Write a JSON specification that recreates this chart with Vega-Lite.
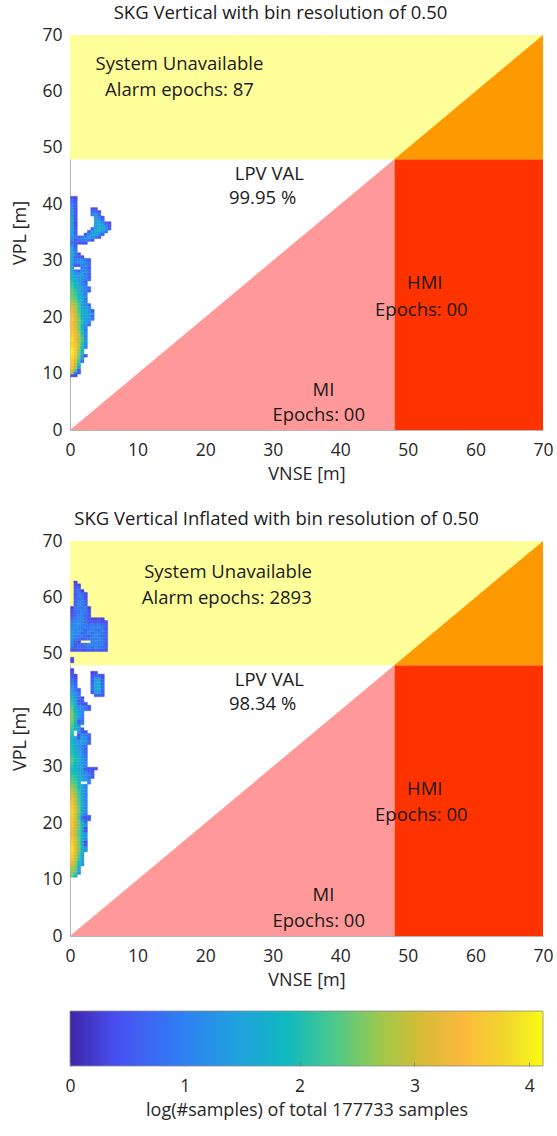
{
  "$schema": "https://vega.github.io/schema/vega-lite/v6.json",
  "padding": {"left": 11, "top": 3, "right": 10, "bottom": 4},
  "spacing": 20,
  "config": {
    "font": "Open Sans",
    "view": {"stroke": null},
    "axis": {"labelFont": "Open Sans", "labelFontSize": 17.5, "labelColor": "#262626", "titleFont": "Open Sans", "titleFontSize": 18, "titleFontWeight": "normal", "titleColor": "#262626", "ticks": false, "grid": false, "domainColor": "#b4b4b4", "labelFlush": false},
    "axisX": {"labelPadding": 11, "titlePadding": 7},
    "axisY": {"labelPadding": 8, "titlePadding": 12},
    "title": {"font": "Open Sans", "fontSize": 18.5, "fontWeight": "normal", "color": "#1a1a1a", "frame": "group", "anchor": "middle", "offset": 4},
    "text": {"font": "Open Sans", "fontSize": 18.5, "color": "#1a1a1a"}
  },
  "datasets": {
    "top": [
{"x":0,"y":9.5,"v":0.4},{"x":0.5,"y":9.5,"v":0.3},
{"x":0,"y":10,"v":2.8},{"x":0.5,"y":10,"v":1.0},{"x":1,"y":10,"v":0.4},
{"x":0,"y":10.5,"v":3.2},{"x":0.5,"y":10.5,"v":2.4},{"x":1,"y":10.5,"v":0.5},
{"x":0,"y":11,"v":3.4},{"x":0.5,"y":11,"v":2.8},{"x":1,"y":11,"v":1.5},
{"x":0,"y":11.5,"v":3.6},{"x":0.5,"y":11.5,"v":3.0},{"x":1,"y":11.5,"v":2.0},
{"x":0,"y":12,"v":3.7},{"x":0.5,"y":12,"v":3.2},{"x":1,"y":12,"v":2.2},{"x":1.5,"y":12,"v":0.8},
{"x":0,"y":12.5,"v":3.8},{"x":0.5,"y":12.5,"v":3.3},{"x":1,"y":12.5,"v":2.4},{"x":1.5,"y":12.5,"v":1.2},
{"x":0,"y":13,"v":3.9},{"x":0.5,"y":13,"v":3.5},{"x":1,"y":13,"v":2.5},{"x":1.5,"y":13,"v":1.5},{"x":2,"y":13,"v":0.4},
{"x":0,"y":13.5,"v":4.0},{"x":0.5,"y":13.5,"v":3.6},{"x":1,"y":13.5,"v":2.6},{"x":1.5,"y":13.5,"v":1.8},
{"x":0,"y":14,"v":4.0},{"x":0.5,"y":14,"v":3.6},{"x":1,"y":14,"v":2.7},{"x":1.5,"y":14,"v":1.9},
{"x":0,"y":14.5,"v":3.9},{"x":0.5,"y":14.5,"v":3.7},{"x":1,"y":14.5,"v":2.8},{"x":1.5,"y":14.5,"v":2.0},{"x":2,"y":14.5,"v":1.0},
{"x":0,"y":15,"v":3.8},{"x":0.5,"y":15,"v":3.6},{"x":1,"y":15,"v":2.9},{"x":1.5,"y":15,"v":2.1},{"x":2,"y":15,"v":1.2},
{"x":0,"y":15.5,"v":3.8},{"x":0.5,"y":15.5,"v":3.5},{"x":1,"y":15.5,"v":2.8},{"x":1.5,"y":15.5,"v":2.2},{"x":2,"y":15.5,"v":1.4},
{"x":0,"y":16,"v":3.9},{"x":0.5,"y":16,"v":3.4},{"x":1,"y":16,"v":2.8},{"x":1.5,"y":16,"v":2.3},{"x":2,"y":16,"v":1.3},
{"x":0,"y":16.5,"v":3.8},{"x":0.5,"y":16.5,"v":3.4},{"x":1,"y":16.5,"v":2.9},{"x":1.5,"y":16.5,"v":2.2},{"x":2,"y":16.5,"v":1.0},
{"x":0,"y":17,"v":3.7},{"x":0.5,"y":17,"v":3.3},{"x":1,"y":17,"v":2.7},{"x":1.5,"y":17,"v":2.0},{"x":2,"y":17,"v":1.2},
{"x":0,"y":17.5,"v":3.6},{"x":0.5,"y":17.5,"v":3.3},{"x":1,"y":17.5,"v":2.6},{"x":1.5,"y":17.5,"v":2.0},{"x":2,"y":17.5,"v":0.9},
{"x":0,"y":18,"v":3.6},{"x":0.5,"y":18,"v":3.2},{"x":1,"y":18,"v":2.6},{"x":1.5,"y":18,"v":1.9},{"x":2,"y":18,"v":1.1},
{"x":0,"y":18.5,"v":3.5},{"x":0.5,"y":18.5,"v":3.2},{"x":1,"y":18.5,"v":2.5},{"x":1.5,"y":18.5,"v":1.9},{"x":2,"y":18.5,"v":1.3},{"x":2.5,"y":18.5,"v":0.8},
{"x":0,"y":19,"v":3.5},{"x":0.5,"y":19,"v":3.1},{"x":1,"y":19,"v":2.5},{"x":1.5,"y":19,"v":2.0},{"x":2,"y":19,"v":1.4},{"x":2.5,"y":19,"v":1.0},
{"x":0,"y":19.5,"v":3.6},{"x":0.5,"y":19.5,"v":3.2},{"x":1,"y":19.5,"v":2.6},{"x":1.5,"y":19.5,"v":2.0},{"x":2,"y":19.5,"v":1.5},{"x":2.5,"y":19.5,"v":1.2},{"x":3,"y":19.5,"v":0.9},
{"x":0,"y":20,"v":3.5},{"x":0.5,"y":20,"v":3.0},{"x":1,"y":20,"v":2.4},{"x":1.5,"y":20,"v":1.8},{"x":2,"y":20,"v":1.5},{"x":2.5,"y":20,"v":1.3},{"x":3,"y":20,"v":0.8},
{"x":0,"y":20.5,"v":3.4},{"x":0.5,"y":20.5,"v":3.0},{"x":1,"y":20.5,"v":2.4},{"x":1.5,"y":20.5,"v":1.9},{"x":2,"y":20.5,"v":1.6},{"x":2.5,"y":20.5,"v":1.4},{"x":3,"y":20.5,"v":1.2},
{"x":0,"y":21,"v":3.3},{"x":0.5,"y":21,"v":2.9},{"x":1,"y":21,"v":2.3},{"x":1.5,"y":21,"v":1.8},{"x":2,"y":21,"v":1.5},{"x":2.5,"y":21,"v":1.3},{"x":3,"y":21,"v":0.6},
{"x":0,"y":21.5,"v":3.2},{"x":0.5,"y":21.5,"v":2.8},{"x":1,"y":21.5,"v":2.2},{"x":1.5,"y":21.5,"v":1.7},{"x":2,"y":21.5,"v":1.4},{"x":2.5,"y":21.5,"v":1.0},
{"x":0,"y":22,"v":3.0},{"x":0.5,"y":22,"v":2.7},{"x":1,"y":22,"v":2.2},{"x":1.5,"y":22,"v":1.6},{"x":2,"y":22,"v":1.2},{"x":2.5,"y":22,"v":0.7},
{"x":0,"y":22.5,"v":2.8},{"x":0.5,"y":22.5,"v":2.6},{"x":1,"y":22.5,"v":2.1},{"x":1.5,"y":22.5,"v":1.6},{"x":2,"y":22.5,"v":1.0},
{"x":0,"y":23,"v":2.6},{"x":0.5,"y":23,"v":2.4},{"x":1,"y":23,"v":2.0},{"x":1.5,"y":23,"v":1.5},{"x":2,"y":23,"v":0.8},
{"x":0,"y":23.5,"v":2.5},{"x":0.5,"y":23.5,"v":2.3},{"x":1,"y":23.5,"v":1.9},{"x":1.5,"y":23.5,"v":1.5},{"x":2,"y":23.5,"v":1.2},
{"x":0,"y":24,"v":2.5},{"x":0.5,"y":24,"v":2.2},{"x":1,"y":24,"v":1.8},{"x":1.5,"y":24,"v":1.4},{"x":2,"y":24,"v":1.0},
{"x":0,"y":24.5,"v":2.4},{"x":0.5,"y":24.5,"v":2.1},{"x":1,"y":24.5,"v":1.8},{"x":1.5,"y":24.5,"v":1.3},{"x":2,"y":24.5,"v":0.9},{"x":2.5,"y":24.5,"v":0.5},
{"x":0,"y":25,"v":2.3},{"x":0.5,"y":25,"v":2.0},{"x":1,"y":25,"v":1.7},{"x":1.5,"y":25,"v":1.4},{"x":2,"y":25,"v":1.1},{"x":2.5,"y":25,"v":0.8},
{"x":0,"y":25.5,"v":2.2},{"x":0.5,"y":25.5,"v":1.9},{"x":1,"y":25.5,"v":1.5},{"x":1.5,"y":25.5,"v":1.2},{"x":2,"y":25.5,"v":0.9},
{"x":0,"y":26,"v":2.1},{"x":0.5,"y":26,"v":1.8},{"x":1,"y":26,"v":1.4},{"x":1.5,"y":26,"v":1.0},{"x":2,"y":26,"v":0.6},
{"x":0,"y":26.5,"v":2.0},{"x":0.5,"y":26.5,"v":1.7},{"x":1,"y":26.5,"v":1.3},{"x":1.5,"y":26.5,"v":1.2},{"x":2,"y":26.5,"v":1.0},{"x":2.5,"y":26.5,"v":0.7},
{"x":0,"y":27,"v":1.9},{"x":0.5,"y":27,"v":1.5},{"x":1,"y":27,"v":1.2},{"x":1.5,"y":27,"v":1.3},{"x":2,"y":27,"v":1.1},{"x":2.5,"y":27,"v":0.6},
{"x":0,"y":27.5,"v":1.8},{"x":0.5,"y":27.5,"v":1.3},{"x":1,"y":27.5,"v":1.2},{"x":1.5,"y":27.5,"v":1.4},{"x":2,"y":27.5,"v":1.0},{"x":2.5,"y":27.5,"v":0.6},
{"x":0,"y":28,"v":1.7},{"x":0.5,"y":28,"v":1.0},{"x":1,"y":28,"v":0.6},{"x":1.5,"y":28,"v":1.3},{"x":2,"y":28,"v":1.1},{"x":2.5,"y":28,"v":0.8},
{"x":0,"y":28.5,"v":1.5},{"x":1.5,"y":28.5,"v":0.9},{"x":2,"y":28.5,"v":1.0},{"x":2.5,"y":28.5,"v":0.5},
{"x":0,"y":29,"v":1.4},{"x":0.5,"y":29,"v":0.5},{"x":1,"y":29,"v":0.4},{"x":1.5,"y":29,"v":1.0},{"x":2,"y":29,"v":1.2},{"x":2.5,"y":29,"v":0.7},
{"x":0,"y":29.5,"v":1.5},{"x":0.5,"y":29.5,"v":1.0},{"x":1,"y":29.5,"v":1.2},{"x":1.5,"y":29.5,"v":1.3},{"x":2,"y":29.5,"v":1.1},{"x":2.5,"y":29.5,"v":0.6},
{"x":0,"y":30,"v":1.4},{"x":0.5,"y":30,"v":0.9},{"x":1,"y":30,"v":1.0},{"x":1.5,"y":30,"v":1.2},{"x":2,"y":30,"v":0.8},{"x":2.5,"y":30,"v":0.5},
{"x":0,"y":30.5,"v":1.5},{"x":0.5,"y":30.5,"v":0.8},{"x":1,"y":30.5,"v":0.6},{"x":1.5,"y":30.5,"v":0.5},
{"x":0,"y":31,"v":1.6},{"x":0.5,"y":31,"v":1.0},{"x":1,"y":31,"v":0.4},
{"x":0,"y":31.5,"v":1.6},{"x":0.5,"y":31.5,"v":0.9},
{"x":0,"y":32,"v":1.5},{"x":0.5,"y":32,"v":0.8},
{"x":0,"y":32.5,"v":1.2},{"x":0.5,"y":32.5,"v":0.6},
{"x":0,"y":33,"v":0.7},{"x":0.5,"y":33,"v":0.5},{"x":1,"y":33,"v":0.4},{"x":1.5,"y":33,"v":0.5},{"x":2,"y":33,"v":0.4},
{"x":0,"y":33.5,"v":1.0},{"x":0.5,"y":33.5,"v":0.6},{"x":1,"y":33.5,"v":0.7},{"x":1.5,"y":33.5,"v":0.9},{"x":2,"y":33.5,"v":1.0},{"x":2.5,"y":33.5,"v":0.8},{"x":3,"y":33.5,"v":0.5},
{"x":0,"y":34,"v":1.3},{"x":0.5,"y":34,"v":0.8},{"x":1,"y":34,"v":0.7},{"x":1.5,"y":34,"v":0.9},{"x":2,"y":34,"v":1.2},{"x":2.5,"y":34,"v":1.4},{"x":3,"y":34,"v":1.2},{"x":3.5,"y":34,"v":0.9},{"x":4,"y":34,"v":0.5},
{"x":0,"y":34.5,"v":1.4},{"x":0.5,"y":34.5,"v":0.7},{"x":2,"y":34.5,"v":0.6},{"x":2.5,"y":34.5,"v":1.1},{"x":3,"y":34.5,"v":1.5},{"x":3.5,"y":34.5,"v":1.4},{"x":4,"y":34.5,"v":1.0},{"x":4.5,"y":34.5,"v":0.6},
{"x":0,"y":35,"v":1.5},{"x":0.5,"y":35,"v":0.6},{"x":2.5,"y":35,"v":0.6},{"x":3,"y":35,"v":1.3},{"x":3.5,"y":35,"v":1.7},{"x":4,"y":35,"v":1.6},{"x":4.5,"y":35,"v":1.3},{"x":5,"y":35,"v":0.8},
{"x":0,"y":35.5,"v":1.5},{"x":0.5,"y":35.5,"v":0.6},{"x":3,"y":35.5,"v":0.8},{"x":3.5,"y":35.5,"v":1.5},{"x":4,"y":35.5,"v":1.8},{"x":4.5,"y":35.5,"v":1.7},{"x":5,"y":35.5,"v":1.2},{"x":5.5,"y":35.5,"v":0.6},
{"x":0,"y":36,"v":1.5},{"x":0.5,"y":36,"v":0.5},{"x":3.5,"y":36,"v":1.2},{"x":4,"y":36,"v":1.7},{"x":4.5,"y":36,"v":1.6},{"x":5,"y":36,"v":1.0},{"x":5.5,"y":36,"v":0.5},
{"x":0,"y":36.5,"v":1.4},{"x":0.5,"y":36.5,"v":0.4},{"x":3.5,"y":36.5,"v":1.4},{"x":4,"y":36.5,"v":1.6},{"x":4.5,"y":36.5,"v":1.2},{"x":5,"y":36.5,"v":0.6},{"x":5.5,"y":36.5,"v":0.4},
{"x":0,"y":37,"v":1.4},{"x":0.5,"y":37,"v":0.5},{"x":3.5,"y":37,"v":1.5},{"x":4,"y":37,"v":1.3},{"x":4.5,"y":37,"v":0.8},
{"x":0,"y":37.5,"v":1.3},{"x":0.5,"y":37.5,"v":0.5},{"x":3.5,"y":37.5,"v":1.4},{"x":4,"y":37.5,"v":1.0},{"x":4.5,"y":37.5,"v":0.5},
{"x":0,"y":38,"v":1.3},{"x":0.5,"y":38,"v":0.6},{"x":3,"y":38,"v":1.0},{"x":3.5,"y":38,"v":1.3},{"x":4,"y":38,"v":0.8},
{"x":0,"y":38.5,"v":1.2},{"x":0.5,"y":38.5,"v":0.5},{"x":3,"y":38.5,"v":0.8},{"x":3.5,"y":38.5,"v":0.7},{"x":4,"y":38.5,"v":0.4},
{"x":0,"y":39,"v":1.2},{"x":0.5,"y":39,"v":0.4},{"x":3,"y":39,"v":0.4},{"x":3.5,"y":39,"v":0.5},
{"x":0,"y":39.5,"v":1.1},{"x":0.5,"y":39.5,"v":0.5},
{"x":0,"y":40,"v":1.0},{"x":0.5,"y":40,"v":0.6},
{"x":0,"y":40.5,"v":0.8},{"x":0.5,"y":40.5,"v":0.5},
{"x":0,"y":41,"v":0.5},{"x":0.5,"y":41,"v":0.3}
    ],
    "bot": [
{"x":0,"y":10.5,"v":2.4},{"x":0.5,"y":10.5,"v":1.8},
{"x":0,"y":11,"v":2.6},{"x":0.5,"y":11,"v":2.3},{"x":1,"y":11,"v":1.2},
{"x":0,"y":11.5,"v":2.7},{"x":0.5,"y":11.5,"v":2.5},{"x":1,"y":11.5,"v":1.5},
{"x":0,"y":12,"v":2.9},{"x":0.5,"y":12,"v":2.6},{"x":1,"y":12,"v":1.6},
{"x":0,"y":12.5,"v":3.1},{"x":0.5,"y":12.5,"v":2.7},{"x":1,"y":12.5,"v":1.8},{"x":1.5,"y":12.5,"v":1.2},
{"x":0,"y":13,"v":3.3},{"x":0.5,"y":13,"v":2.8},{"x":1,"y":13,"v":2.0},{"x":1.5,"y":13,"v":1.4},
{"x":0,"y":13.5,"v":3.5},{"x":0.5,"y":13.5,"v":3.0},{"x":1,"y":13.5,"v":2.2},{"x":1.5,"y":13.5,"v":1.5},
{"x":0,"y":14,"v":3.7},{"x":0.5,"y":14,"v":3.1},{"x":1,"y":14,"v":2.3},{"x":1.5,"y":14,"v":1.6},
{"x":0,"y":14.5,"v":3.8},{"x":0.5,"y":14.5,"v":3.2},{"x":1,"y":14.5,"v":2.4},{"x":1.5,"y":14.5,"v":1.7},
{"x":0,"y":15,"v":3.9},{"x":0.5,"y":15,"v":3.3},{"x":1,"y":15,"v":2.5},{"x":1.5,"y":15,"v":1.8},{"x":2,"y":15,"v":1.2},
{"x":0,"y":15.5,"v":3.9},{"x":0.5,"y":15.5,"v":3.3},{"x":1,"y":15.5,"v":2.6},{"x":1.5,"y":15.5,"v":1.9},{"x":2,"y":15.5,"v":1.4},
{"x":0,"y":16,"v":3.8},{"x":0.5,"y":16,"v":3.2},{"x":1,"y":16,"v":2.5},{"x":1.5,"y":16,"v":1.8},{"x":2,"y":16,"v":0.5},
{"x":0,"y":16.5,"v":3.7},{"x":0.5,"y":16.5,"v":3.2},{"x":1,"y":16.5,"v":2.4},{"x":1.5,"y":16.5,"v":1.7},{"x":2,"y":16.5,"v":0.4},
{"x":0,"y":17,"v":3.6},{"x":0.5,"y":17,"v":3.1},{"x":1,"y":17,"v":2.5},{"x":1.5,"y":17,"v":1.8},{"x":2,"y":17,"v":1.2},
{"x":0,"y":17.5,"v":3.5},{"x":0.5,"y":17.5,"v":3.0},{"x":1,"y":17.5,"v":2.4},{"x":1.5,"y":17.5,"v":1.9},{"x":2,"y":17.5,"v":1.3},
{"x":0,"y":18,"v":3.4},{"x":0.5,"y":18,"v":2.9},{"x":1,"y":18,"v":2.3},{"x":1.5,"y":18,"v":1.8},{"x":2,"y":18,"v":1.2},
{"x":0,"y":18.5,"v":3.4},{"x":0.5,"y":18.5,"v":2.9},{"x":1,"y":18.5,"v":2.4},{"x":1.5,"y":18.5,"v":1.7},{"x":2,"y":18.5,"v":0.5},
{"x":0,"y":19,"v":3.5},{"x":0.5,"y":19,"v":3.0},{"x":1,"y":19,"v":2.5},{"x":1.5,"y":19,"v":1.8},{"x":2,"y":19,"v":0.4},
{"x":0,"y":19.5,"v":3.6},{"x":0.5,"y":19.5,"v":3.0},{"x":1,"y":19.5,"v":2.4},{"x":1.5,"y":19.5,"v":1.9},{"x":2,"y":19.5,"v":1.3},
{"x":0,"y":20,"v":3.6},{"x":0.5,"y":20,"v":3.1},{"x":1,"y":20,"v":2.5},{"x":1.5,"y":20,"v":1.8},{"x":2,"y":20,"v":0.8},
{"x":0,"y":20.5,"v":3.7},{"x":0.5,"y":20.5,"v":3.1},{"x":1,"y":20.5,"v":2.4},{"x":1.5,"y":20.5,"v":1.0},{"x":2,"y":20.5,"v":0.6},{"x":2.5,"y":20.5,"v":0.5},
{"x":0,"y":21,"v":3.7},{"x":0.5,"y":21,"v":3.2},{"x":1,"y":21,"v":2.3},{"x":1.5,"y":21,"v":0.9},{"x":2,"y":21,"v":0.5},{"x":2.5,"y":21,"v":0.6},
{"x":0,"y":21.5,"v":3.8},{"x":0.5,"y":21.5,"v":3.2},{"x":1,"y":21.5,"v":2.4},{"x":1.5,"y":21.5,"v":1.6},{"x":2,"y":21.5,"v":1.0},
{"x":0,"y":22,"v":3.8},{"x":0.5,"y":22,"v":3.3},{"x":1,"y":22,"v":2.5},{"x":1.5,"y":22,"v":1.7},{"x":2,"y":22,"v":1.2},
{"x":0,"y":22.5,"v":3.7},{"x":0.5,"y":22.5,"v":3.2},{"x":1,"y":22.5,"v":2.4},{"x":1.5,"y":22.5,"v":1.7},{"x":2,"y":22.5,"v":1.1},
{"x":0,"y":23,"v":3.6},{"x":0.5,"y":23,"v":3.1},{"x":1,"y":23,"v":2.4},{"x":1.5,"y":23,"v":1.8},{"x":2,"y":23,"v":1.2},
{"x":0,"y":23.5,"v":3.5},{"x":0.5,"y":23.5,"v":3.0},{"x":1,"y":23.5,"v":2.3},{"x":1.5,"y":23.5,"v":1.7},{"x":2,"y":23.5,"v":1.1},
{"x":0,"y":24,"v":3.4},{"x":0.5,"y":24,"v":2.9},{"x":1,"y":24,"v":2.3},{"x":1.5,"y":24,"v":1.6},{"x":2,"y":24,"v":1.2},
{"x":0,"y":24.5,"v":3.2},{"x":0.5,"y":24.5,"v":2.8},{"x":1,"y":24.5,"v":2.2},{"x":1.5,"y":24.5,"v":1.7},{"x":2,"y":24.5,"v":1.1},
{"x":0,"y":25,"v":3.1},{"x":0.5,"y":25,"v":2.7},{"x":1,"y":25,"v":2.2},{"x":1.5,"y":25,"v":1.6},{"x":2,"y":25,"v":1.0},
{"x":0,"y":25.5,"v":3.0},{"x":0.5,"y":25.5,"v":2.6},{"x":1,"y":25.5,"v":2.1},{"x":1.5,"y":25.5,"v":1.5},{"x":2,"y":25.5,"v":1.2},
{"x":0,"y":26,"v":2.8},{"x":0.5,"y":26,"v":2.5},{"x":1,"y":26,"v":2.0},{"x":1.5,"y":26,"v":1.6},{"x":2,"y":26,"v":1.1},
{"x":0,"y":26.5,"v":2.6},{"x":0.5,"y":26.5,"v":2.4},{"x":1,"y":26.5,"v":2.0},{"x":1.5,"y":26.5,"v":1.5},{"x":2,"y":26.5,"v":1.0},
{"x":0,"y":27,"v":2.4},{"x":0.5,"y":27,"v":2.3},{"x":1,"y":27,"v":1.9},{"x":2.5,"y":27,"v":0.9},
{"x":0,"y":27.5,"v":2.3},{"x":0.5,"y":27.5,"v":2.2},{"x":1,"y":27.5,"v":1.8},{"x":1.5,"y":27.5,"v":1.5},{"x":2,"y":27.5,"v":1.3},{"x":2.5,"y":27.5,"v":1.0},
{"x":0,"y":28,"v":2.2},{"x":0.5,"y":28,"v":2.1},{"x":1,"y":28,"v":1.8},{"x":1.5,"y":28,"v":1.6},{"x":2,"y":28,"v":1.2},{"x":2.5,"y":28,"v":0.8},{"x":3,"y":28,"v":0.5},
{"x":0,"y":28.5,"v":2.1},{"x":0.5,"y":28.5,"v":2.0},{"x":1,"y":28.5,"v":1.7},{"x":1.5,"y":28.5,"v":1.5},{"x":2,"y":28.5,"v":1.3},{"x":2.5,"y":28.5,"v":1.0},{"x":3,"y":28.5,"v":0.6},
{"x":0,"y":29,"v":2.0},{"x":0.5,"y":29,"v":1.9},{"x":1,"y":29,"v":1.7},{"x":1.5,"y":29,"v":1.4},{"x":2,"y":29,"v":1.0},{"x":2.5,"y":29,"v":0.6},{"x":3,"y":29,"v":0.4},
{"x":0,"y":29.5,"v":2.0},{"x":0.5,"y":29.5,"v":1.8},{"x":1,"y":29.5,"v":1.6},{"x":1.5,"y":29.5,"v":1.3},{"x":2,"y":29.5,"v":0.6},{"x":2.5,"y":29.5,"v":0.4},{"x":3,"y":29.5,"v":0.5},{"x":3.5,"y":29.5,"v":0.4},
{"x":0,"y":30,"v":2.1},{"x":0.5,"y":30,"v":1.9},{"x":1,"y":30,"v":1.6},{"x":1.5,"y":30,"v":1.4},{"x":2,"y":30,"v":1.0},
{"x":0,"y":30.5,"v":2.2},{"x":0.5,"y":30.5,"v":1.9},{"x":1,"y":30.5,"v":1.6},{"x":1.5,"y":30.5,"v":1.3},{"x":2,"y":30.5,"v":1.1},
{"x":0,"y":31,"v":2.3},{"x":0.5,"y":31,"v":2.0},{"x":1,"y":31,"v":1.7},{"x":1.5,"y":31,"v":1.4},{"x":2,"y":31,"v":1.0},
{"x":0,"y":31.5,"v":2.2},{"x":0.5,"y":31.5,"v":2.0},{"x":1,"y":31.5,"v":1.7},{"x":1.5,"y":31.5,"v":1.3},{"x":2,"y":31.5,"v":0.9},
{"x":0,"y":32,"v":2.1},{"x":0.5,"y":32,"v":1.9},{"x":1,"y":32,"v":1.6},{"x":1.5,"y":32,"v":1.2},{"x":2,"y":32,"v":0.8},
{"x":0,"y":32.5,"v":2.0},{"x":0.5,"y":32.5,"v":1.8},{"x":1,"y":32.5,"v":1.5},{"x":1.5,"y":32.5,"v":1.2},{"x":2,"y":32.5,"v":0.7},
{"x":0,"y":33,"v":2.0},{"x":0.5,"y":33,"v":1.7},{"x":1,"y":33,"v":1.4},{"x":1.5,"y":33,"v":1.1},{"x":2,"y":33,"v":0.6},
{"x":0,"y":33.5,"v":1.9},{"x":0.5,"y":33.5,"v":1.6},{"x":1,"y":33.5,"v":1.3},{"x":1.5,"y":33.5,"v":1.0},{"x":2,"y":33.5,"v":0.8},
{"x":0,"y":34,"v":1.9},{"x":0.5,"y":34,"v":1.5},{"x":1,"y":34,"v":1.3},{"x":1.5,"y":34,"v":1.4},{"x":2,"y":34,"v":1.2},{"x":2.5,"y":34,"v":0.6},
{"x":0,"y":34.5,"v":1.8},{"x":0.5,"y":34.5,"v":1.4},{"x":1,"y":34.5,"v":1.2},{"x":1.5,"y":34.5,"v":1.5},{"x":2,"y":34.5,"v":1.3},{"x":2.5,"y":34.5,"v":0.7},
{"x":0,"y":35,"v":1.9},{"x":0.5,"y":35,"v":1.5},{"x":1,"y":35,"v":0.5},{"x":1.5,"y":35,"v":1.4},{"x":2,"y":35,"v":1.2},{"x":2.5,"y":35,"v":0.5},
{"x":0,"y":35.5,"v":2.0},{"x":1,"y":35.5,"v":0.4},{"x":1.5,"y":35.5,"v":1.3},{"x":2,"y":35.5,"v":1.0},{"x":2.5,"y":35.5,"v":0.8},
{"x":0,"y":36,"v":2.1},{"x":1,"y":36,"v":1.2},{"x":1.5,"y":36,"v":0.5},{"x":2,"y":36,"v":0.4},
{"x":0,"y":36.5,"v":2.2},{"x":0.5,"y":36.5,"v":1.8},{"x":1,"y":36.5,"v":1.4},{"x":1.5,"y":36.5,"v":0.5},
{"x":0,"y":37,"v":2.3},{"x":0.5,"y":37,"v":1.9},{"x":1,"y":37,"v":1.3},
{"x":0,"y":37.5,"v":2.4},{"x":0.5,"y":37.5,"v":1.9},{"x":1,"y":37.5,"v":0.6},{"x":1.5,"y":37.5,"v":1.0},
{"x":0,"y":38,"v":2.5},{"x":0.5,"y":38,"v":2.0},{"x":1,"y":38,"v":0.5},{"x":1.5,"y":38,"v":0.8},
{"x":0,"y":38.5,"v":2.6},{"x":0.5,"y":38.5,"v":2.0},{"x":1,"y":38.5,"v":1.3},{"x":1.5,"y":38.5,"v":0.9},
{"x":0,"y":39,"v":2.6},{"x":0.5,"y":39,"v":2.0},{"x":1,"y":39,"v":1.4},{"x":1.5,"y":39,"v":1.0},
{"x":0,"y":39.5,"v":2.5},{"x":0.5,"y":39.5,"v":1.9},{"x":1,"y":39.5,"v":1.3},{"x":1.5,"y":39.5,"v":1.1},
{"x":0,"y":40,"v":2.4},{"x":0.5,"y":40,"v":1.8},{"x":1,"y":40,"v":1.2},{"x":1.5,"y":40,"v":1.0},{"x":2,"y":40,"v":0.8},{"x":2.5,"y":40,"v":0.5},
{"x":0,"y":40.5,"v":2.3},{"x":0.5,"y":40.5,"v":1.7},{"x":1,"y":40.5,"v":1.3},{"x":1.5,"y":40.5,"v":1.2},{"x":2,"y":40.5,"v":1.0},{"x":2.5,"y":40.5,"v":0.4},
{"x":0,"y":41,"v":2.2},{"x":0.5,"y":41,"v":1.6},{"x":1,"y":41,"v":0.6},{"x":1.5,"y":41,"v":0.5},{"x":2,"y":41,"v":0.4},
{"x":0,"y":41.5,"v":2.0},{"x":0.5,"y":41.5,"v":1.5},{"x":1,"y":41.5,"v":0.5},{"x":1.5,"y":41.5,"v":0.6},
{"x":0,"y":42,"v":1.8},{"x":0.5,"y":42,"v":1.3},{"x":1,"y":42,"v":0.8},{"x":1.5,"y":42,"v":0.5},
{"x":0,"y":42.5,"v":1.6},{"x":0.5,"y":42.5,"v":1.2},{"x":1,"y":42.5,"v":0.9},{"x":3.5,"y":42.5,"v":0.5},{"x":4,"y":42.5,"v":0.6},{"x":4.5,"y":42.5,"v":0.5},
{"x":0,"y":43,"v":1.5},{"x":0.5,"y":43,"v":1.1},{"x":1,"y":43,"v":0.7},{"x":3,"y":43,"v":0.6},{"x":3.5,"y":43,"v":1.3},{"x":4,"y":43,"v":1.4},{"x":4.5,"y":43,"v":0.6},
{"x":0,"y":43.5,"v":1.3},{"x":0.5,"y":43.5,"v":0.9},{"x":1,"y":43.5,"v":0.5},{"x":3,"y":43.5,"v":0.7},{"x":3.5,"y":43.5,"v":1.5},{"x":4,"y":43.5,"v":1.6},{"x":4.5,"y":43.5,"v":0.7},
{"x":0,"y":44,"v":1.2},{"x":0.5,"y":44,"v":0.8},{"x":3,"y":44,"v":0.8},{"x":3.5,"y":44,"v":1.6},{"x":4,"y":44,"v":1.7},{"x":4.5,"y":44,"v":0.8},
{"x":0,"y":44.5,"v":1.0},{"x":0.5,"y":44.5,"v":0.6},{"x":3,"y":44.5,"v":0.7},{"x":3.5,"y":44.5,"v":1.5},{"x":4,"y":44.5,"v":1.6},{"x":4.5,"y":44.5,"v":0.7},
{"x":0,"y":45,"v":0.8},{"x":0.5,"y":45,"v":0.5},{"x":3,"y":45,"v":0.6},{"x":3.5,"y":45,"v":1.4},{"x":4,"y":45,"v":1.5},{"x":4.5,"y":45,"v":0.6},
{"x":0,"y":45.5,"v":0.6},{"x":0.5,"y":45.5,"v":0.4},{"x":3,"y":45.5,"v":0.5},{"x":3.5,"y":45.5,"v":1.2},{"x":4,"y":45.5,"v":1.3},{"x":4.5,"y":45.5,"v":0.5},
{"x":0,"y":46,"v":0.5},{"x":0.5,"y":46,"v":0.3},{"x":3,"y":46,"v":0.4},{"x":3.5,"y":46,"v":0.6},{"x":4,"y":46,"v":0.5},{"x":4.5,"y":46,"v":0.4},
{"x":0,"y":46.5,"v":0.4},{"x":3,"y":46.5,"v":0.3},{"x":3.5,"y":46.5,"v":0.4},
{"x":0,"y":47,"v":0.3},
{"x":0,"y":48.5,"v":0.3},
{"x":0,"y":49,"v":0.4},
{"x":0,"y":50.5,"v":0.4},{"x":0.5,"y":50.5,"v":0.5},{"x":1,"y":50.5,"v":0.5},{"x":1.5,"y":50.5,"v":0.4},{"x":2,"y":50.5,"v":0.4},{"x":2.5,"y":50.5,"v":0.5},{"x":3,"y":50.5,"v":0.5},{"x":3.5,"y":50.5,"v":0.6},{"x":4,"y":50.5,"v":0.5},{"x":4.5,"y":50.5,"v":0.5},{"x":5,"y":50.5,"v":0.4},
{"x":0,"y":51,"v":0.8},{"x":0.5,"y":51,"v":0.6},{"x":1,"y":51,"v":0.7},{"x":1.5,"y":51,"v":0.8},{"x":2,"y":51,"v":0.7},{"x":2.5,"y":51,"v":0.9},{"x":3,"y":51,"v":0.8},{"x":3.5,"y":51,"v":1.0},{"x":4,"y":51,"v":0.9},{"x":4.5,"y":51,"v":0.8},{"x":5,"y":51,"v":0.6},
{"x":0,"y":51.5,"v":1.0},{"x":0.5,"y":51.5,"v":0.5},{"x":1,"y":51.5,"v":0.6},{"x":1.5,"y":51.5,"v":0.7},{"x":2,"y":51.5,"v":0.8},{"x":2.5,"y":51.5,"v":1.0},{"x":3,"y":51.5,"v":1.1},{"x":3.5,"y":51.5,"v":1.0},{"x":4,"y":51.5,"v":0.9},{"x":4.5,"y":51.5,"v":1.0},{"x":5,"y":51.5,"v":0.5},
{"x":0,"y":52,"v":1.1},{"x":0.5,"y":52,"v":0.7},{"x":1,"y":52,"v":0.4},{"x":3,"y":52,"v":1.0},{"x":3.5,"y":52,"v":1.1},{"x":4,"y":52,"v":1.0},{"x":4.5,"y":52,"v":0.9},{"x":5,"y":52,"v":0.6},
{"x":0,"y":52.5,"v":1.2},{"x":0.5,"y":52.5,"v":0.9},{"x":1,"y":52.5,"v":0.8},{"x":1.5,"y":52.5,"v":0.6},{"x":2,"y":52.5,"v":0.7},{"x":2.5,"y":52.5,"v":0.8},{"x":3,"y":52.5,"v":1.0},{"x":3.5,"y":52.5,"v":0.9},{"x":4,"y":52.5,"v":1.1},{"x":4.5,"y":52.5,"v":1.0},{"x":5,"y":52.5,"v":0.5},
{"x":0,"y":53,"v":1.2},{"x":0.5,"y":53,"v":1.0},{"x":1,"y":53,"v":0.9},{"x":1.5,"y":53,"v":1.0},{"x":2,"y":53,"v":0.8},{"x":2.5,"y":53,"v":0.6},{"x":3,"y":53,"v":1.0},{"x":3.5,"y":53,"v":1.1},{"x":4,"y":53,"v":0.9},{"x":4.5,"y":53,"v":0.8},{"x":5,"y":53,"v":0.6},
{"x":0,"y":53.5,"v":1.3},{"x":0.5,"y":53.5,"v":1.1},{"x":1,"y":53.5,"v":1.0},{"x":1.5,"y":53.5,"v":0.7},{"x":2,"y":53.5,"v":0.9},{"x":2.5,"y":53.5,"v":1.0},{"x":3,"y":53.5,"v":0.8},{"x":3.5,"y":53.5,"v":1.0},{"x":4,"y":53.5,"v":1.0},{"x":4.5,"y":53.5,"v":0.9},{"x":5,"y":53.5,"v":0.5},
{"x":0,"y":54,"v":1.2},{"x":0.5,"y":54,"v":1.0},{"x":1,"y":54,"v":1.1},{"x":1.5,"y":54,"v":1.0},{"x":2,"y":54,"v":0.6},{"x":2.5,"y":54,"v":0.9},{"x":3,"y":54,"v":1.1},{"x":3.5,"y":54,"v":0.9},{"x":4,"y":54,"v":0.7},{"x":4.5,"y":54,"v":1.0},{"x":5,"y":54,"v":0.6},
{"x":0,"y":54.5,"v":1.1},{"x":0.5,"y":54.5,"v":1.2},{"x":1,"y":54.5,"v":1.0},{"x":1.5,"y":54.5,"v":0.9},{"x":2,"y":54.5,"v":1.0},{"x":2.5,"y":54.5,"v":0.8},{"x":3,"y":54.5,"v":1.0},{"x":3.5,"y":54.5,"v":1.0},{"x":4,"y":54.5,"v":1.1},{"x":4.5,"y":54.5,"v":0.9},{"x":5,"y":54.5,"v":0.5},
{"x":0,"y":55,"v":1.0},{"x":0.5,"y":55,"v":1.1},{"x":1,"y":55,"v":1.2},{"x":1.5,"y":55,"v":1.0},{"x":2,"y":55,"v":0.9},{"x":2.5,"y":55,"v":0.7},{"x":3,"y":55,"v":0.9},{"x":3.5,"y":55,"v":0.8},{"x":4,"y":55,"v":0.9},{"x":4.5,"y":55,"v":0.8},{"x":5,"y":55,"v":0.5},
{"x":0,"y":55.5,"v":0.9},{"x":0.5,"y":55.5,"v":1.0},{"x":1,"y":55.5,"v":1.1},{"x":1.5,"y":55.5,"v":1.0},{"x":2,"y":55.5,"v":0.8},{"x":2.5,"y":55.5,"v":0.5},{"x":3,"y":55.5,"v":0.6},{"x":3.5,"y":55.5,"v":0.4},{"x":4,"y":55.5,"v":0.5},{"x":4.5,"y":55.5,"v":0.4},{"x":5,"y":55.5,"v":0.4},
{"x":0,"y":56,"v":0.7},{"x":0.5,"y":56,"v":0.9},{"x":1,"y":56,"v":1.0},{"x":1.5,"y":56,"v":1.1},{"x":2,"y":56,"v":0.8},{"x":2.5,"y":56,"v":0.4},{"x":3,"y":56,"v":0.4},{"x":3.5,"y":56,"v":0.3},{"x":4,"y":56,"v":0.4},{"x":4.5,"y":56,"v":0.3},
{"x":0,"y":56.5,"v":0.5},{"x":0.5,"y":56.5,"v":0.8},{"x":1,"y":56.5,"v":1.0},{"x":1.5,"y":56.5,"v":1.0},{"x":2,"y":56.5,"v":0.7},{"x":2.5,"y":56.5,"v":0.4},
{"x":0,"y":57,"v":0.4},{"x":0.5,"y":57,"v":0.7},{"x":1,"y":57,"v":0.9},{"x":1.5,"y":57,"v":1.0},{"x":2,"y":57,"v":0.8},{"x":2.5,"y":57,"v":0.5},
{"x":0,"y":57.5,"v":0.4},{"x":0.5,"y":57.5,"v":0.7},{"x":1,"y":57.5,"v":0.8},{"x":1.5,"y":57.5,"v":1.0},{"x":2,"y":57.5,"v":0.9},{"x":2.5,"y":57.5,"v":0.4},
{"x":0,"y":58,"v":0.3},{"x":0.5,"y":58,"v":0.8},{"x":1,"y":58,"v":0.9},{"x":1.5,"y":58,"v":0.8},{"x":2,"y":58,"v":0.9},{"x":2.5,"y":58,"v":0.3},
{"x":0.5,"y":58.5,"v":0.7},{"x":1,"y":58.5,"v":1.0},{"x":1.5,"y":58.5,"v":0.9},{"x":2,"y":58.5,"v":0.7},
{"x":0.5,"y":59,"v":0.6},{"x":1,"y":59,"v":0.9},{"x":1.5,"y":59,"v":1.0},{"x":2,"y":59,"v":0.6},
{"x":0.5,"y":59.5,"v":0.7},{"x":1,"y":59.5,"v":0.8},{"x":1.5,"y":59.5,"v":0.9},{"x":2,"y":59.5,"v":0.5},
{"x":0.5,"y":60,"v":0.6},{"x":1,"y":60,"v":0.9},{"x":1.5,"y":60,"v":0.8},{"x":2,"y":60,"v":0.4},
{"x":0.5,"y":60.5,"v":0.5},{"x":1,"y":60.5,"v":0.8},{"x":1.5,"y":60.5,"v":0.7},{"x":2,"y":60.5,"v":0.4},
{"x":0.5,"y":61,"v":0.6},{"x":1,"y":61,"v":0.7},{"x":1.5,"y":61,"v":0.3},
{"x":0.5,"y":61.5,"v":0.5},{"x":1,"y":61.5,"v":0.6},
{"x":0.5,"y":62,"v":0.4},{"x":1,"y":62,"v":0.3},
{"x":0.5,"y":62.5,"v":0.3}
    ],
    "notesTop": [
      {"x": 16.2, "y": 64.9, "t": "System Unavailable"},
      {"x": 16.2, "y": 60.3, "t": "Alarm epochs: 87"},
      {"x": 29.5, "y": 45.4, "t": "LPV VAL"},
      {"x": 28.5, "y": 41.1, "t": "99.95 %"},
      {"x": 52.5, "y": 26, "t": "HMI"},
      {"x": 52, "y": 21.3, "t": "Epochs: 00"},
      {"x": 37.5, "y": 7.1, "t": "MI"},
      {"x": 36.8, "y": 2.6, "t": "Epochs: 00"}
    ],
    "notesBot": [
      {"x": 23.4, "y": 64.5, "t": "System Unavailable"},
      {"x": 23.2, "y": 59.9, "t": "Alarm epochs: 2893"},
      {"x": 29.5, "y": 45.4, "t": "LPV VAL"},
      {"x": 28.5, "y": 41.1, "t": "98.34 %"},
      {"x": 52.5, "y": 26, "t": "HMI"},
      {"x": 52, "y": 21.4, "t": "Epochs: 00"},
      {"x": 37.5, "y": 7.3, "t": "MI"},
      {"x": 36.8, "y": 2.7, "t": "Epochs: 00"}
    ]
  },
  "vconcat": [
    {
      "spacing": 25,
      "vconcat": [
        {
          "title": {"text": "SKG Vertical with bin resolution of 0.50", "dx": -26},
          "width": 473,
          "height": 395,
          "encoding": {
            "x": {"field": "x", "type": "quantitative", "scale": {"domain": [0, 70], "nice": false, "zero": false}, "axis": {"values": [0, 10, 20, 30, 40, 50, 60, 70], "format": "d", "title": "VNSE [m]"}},
            "y": {"field": "y", "type": "quantitative", "scale": {"domain": [0, 70], "nice": false, "zero": false}, "axis": {"values": [0, 10, 20, 30, 40, 50, 60, 70], "format": "d", "title": "VPL [m]"}}
          },
          "layer": [
            {"data": {"values": [{"x": 0, "x2": 70, "y": 48, "y2": 70}]}, "mark": {"type": "rect", "fill": "#ffff99"}, "encoding": {"x2": {"field": "x2"}, "y2": {"field": "y2"}}},
            {"data": {"values": [{"x": 48, "x2": 70, "y": 0, "y2": 48}]}, "mark": {"type": "rect", "fill": "#ff3300"}, "encoding": {"x2": {"field": "x2"}, "y2": {"field": "y2"}}},
            {"data": {"values": [{"x": 0, "y": 0, "y2": 0}, {"x": 48, "y": 48, "y2": 0}]}, "mark": {"type": "area", "fill": "#ff9999", "opacity": 1}, "encoding": {"y2": {"field": "y2"}}},
            {"data": {"values": [{"x": 48, "y": 48, "y2": 48}, {"x": 70, "y": 70, "y2": 48}]}, "mark": {"type": "area", "fill": "#ff9900", "opacity": 1}, "encoding": {"y2": {"field": "y2"}}},
            {
              "data": {"name": "top"},
              "mark": {"type": "rect", "strokeWidth": 0.4},
              "encoding": {
                "x": {"field": "x", "type": "quantitative", "bin": {"binned": true, "step": 0.5}, "scale": {"domain": [0, 70], "nice": false, "zero": false}, "axis": {"values": [0, 10, 20, 30, 40, 50, 60, 70], "format": "d", "title": "VNSE [m]"}},
                "y": {"field": "y", "type": "quantitative", "bin": {"binned": true, "step": 0.5}, "scale": {"domain": [0, 70], "nice": false, "zero": false}, "axis": {"values": [0, 10, 20, 30, 40, 50, 60, 70], "format": "d", "title": "VPL [m]"}},
                "color": {"field": "v", "type": "quantitative", "legend": null, "scale": {"domain": [0, 0.412, 0.99, 1.48, 1.9, 2.31, 2.72, 3.05, 3.42, 3.79, 4.12], "range": ["#3e26a8", "#4850f2", "#2f80f4", "#1fa3dc", "#0fb9bf", "#4cc98a", "#a0c84a", "#d4bb36", "#fcb93c", "#f2d52e", "#f9fb14"], "interpolate": "rgb"}},
                "stroke": {"field": "v", "type": "quantitative", "legend": null, "scale": {"domain": [0, 0.412, 0.99, 1.48, 1.9, 2.31, 2.72, 3.05, 3.42, 3.79, 4.12], "range": ["#3e26a8", "#4850f2", "#2f80f4", "#1fa3dc", "#0fb9bf", "#4cc98a", "#a0c84a", "#d4bb36", "#fcb93c", "#f2d52e", "#f9fb14"], "interpolate": "rgb"}}
              }
            },
            {"data": {"name": "notesTop"}, "mark": {"type": "text", "align": "center", "baseline": "middle"}, "encoding": {"text": {"field": "t"}}}
          ]
        },
        {
          "title": {"text": "SKG Vertical Inflated with bin resolution of 0.50", "dx": -30},
          "width": 473,
          "height": 395,
          "encoding": {
            "x": {"field": "x", "type": "quantitative", "scale": {"domain": [0, 70], "nice": false, "zero": false}, "axis": {"values": [0, 10, 20, 30, 40, 50, 60, 70], "format": "d", "title": "VNSE [m]"}},
            "y": {"field": "y", "type": "quantitative", "scale": {"domain": [0, 70], "nice": false, "zero": false}, "axis": {"values": [0, 10, 20, 30, 40, 50, 60, 70], "format": "d", "title": "VPL [m]"}}
          },
          "layer": [
            {"data": {"values": [{"x": 0, "x2": 70, "y": 48, "y2": 70}]}, "mark": {"type": "rect", "fill": "#ffff99"}, "encoding": {"x2": {"field": "x2"}, "y2": {"field": "y2"}}},
            {"data": {"values": [{"x": 48, "x2": 70, "y": 0, "y2": 48}]}, "mark": {"type": "rect", "fill": "#ff3300"}, "encoding": {"x2": {"field": "x2"}, "y2": {"field": "y2"}}},
            {"data": {"values": [{"x": 0, "y": 0, "y2": 0}, {"x": 48, "y": 48, "y2": 0}]}, "mark": {"type": "area", "fill": "#ff9999", "opacity": 1}, "encoding": {"y2": {"field": "y2"}}},
            {"data": {"values": [{"x": 48, "y": 48, "y2": 48}, {"x": 70, "y": 70, "y2": 48}]}, "mark": {"type": "area", "fill": "#ff9900", "opacity": 1}, "encoding": {"y2": {"field": "y2"}}},
            {
              "data": {"name": "bot"},
              "mark": {"type": "rect", "strokeWidth": 0.4},
              "encoding": {
                "x": {"field": "x", "type": "quantitative", "bin": {"binned": true, "step": 0.5}, "scale": {"domain": [0, 70], "nice": false, "zero": false}, "axis": {"values": [0, 10, 20, 30, 40, 50, 60, 70], "format": "d", "title": "VNSE [m]"}},
                "y": {"field": "y", "type": "quantitative", "bin": {"binned": true, "step": 0.5}, "scale": {"domain": [0, 70], "nice": false, "zero": false}, "axis": {"values": [0, 10, 20, 30, 40, 50, 60, 70], "format": "d", "title": "VPL [m]"}},
                "color": {"field": "v", "type": "quantitative", "legend": null, "scale": {"domain": [0, 0.412, 0.99, 1.48, 1.9, 2.31, 2.72, 3.05, 3.42, 3.79, 4.12], "range": ["#3e26a8", "#4850f2", "#2f80f4", "#1fa3dc", "#0fb9bf", "#4cc98a", "#a0c84a", "#d4bb36", "#fcb93c", "#f2d52e", "#f9fb14"], "interpolate": "rgb"}},
                "stroke": {"field": "v", "type": "quantitative", "legend": null, "scale": {"domain": [0, 0.412, 0.99, 1.48, 1.9, 2.31, 2.72, 3.05, 3.42, 3.79, 4.12], "range": ["#3e26a8", "#4850f2", "#2f80f4", "#1fa3dc", "#0fb9bf", "#4cc98a", "#a0c84a", "#d4bb36", "#fcb93c", "#f2d52e", "#f9fb14"], "interpolate": "rgb"}}
              }
            },
            {"data": {"name": "notesBot"}, "mark": {"type": "text", "align": "center", "baseline": "middle"}, "encoding": {"text": {"field": "t"}}}
          ]
        }
      ]
    },
    {
      "width": 473,
      "height": 55,
      "data": {"values": [{"lo": 0, "hi": 4.12}]},
      "mark": {"type": "rect", "stroke": "#8c8c8c", "strokeWidth": 0.8, "fill": {"gradient": "linear", "x1": 0, "x2": 1, "y1": 0, "y2": 0, "stops": [
        {"offset": 0, "color": "#3e26a8"}, {"offset": 0.1, "color": "#4850f2"}, {"offset": 0.24, "color": "#2f80f4"}, {"offset": 0.36, "color": "#1fa3dc"}, {"offset": 0.46, "color": "#0fb9bf"}, {"offset": 0.56, "color": "#4cc98a"}, {"offset": 0.66, "color": "#a0c84a"}, {"offset": 0.74, "color": "#d4bb36"}, {"offset": 0.83, "color": "#fcb93c"}, {"offset": 0.92, "color": "#f2d52e"}, {"offset": 1, "color": "#f9fb14"}]}},
      "encoding": {
        "x": {"field": "lo", "type": "quantitative", "scale": {"domain": [0, 4.12], "nice": false, "zero": false}, "axis": {"values": [0, 1, 2, 3, 4], "format": "d", "title": "log(#samples) of total 177733  samples", "domain": false, "ticks": true, "tickSize": -4, "tickColor": "#7a7a7a", "tickWidth": 0.8, "zindex": 1, "labelPadding": 15, "titlePadding": 7}},
        "x2": {"field": "hi"}
      }
    }
  ]
}
